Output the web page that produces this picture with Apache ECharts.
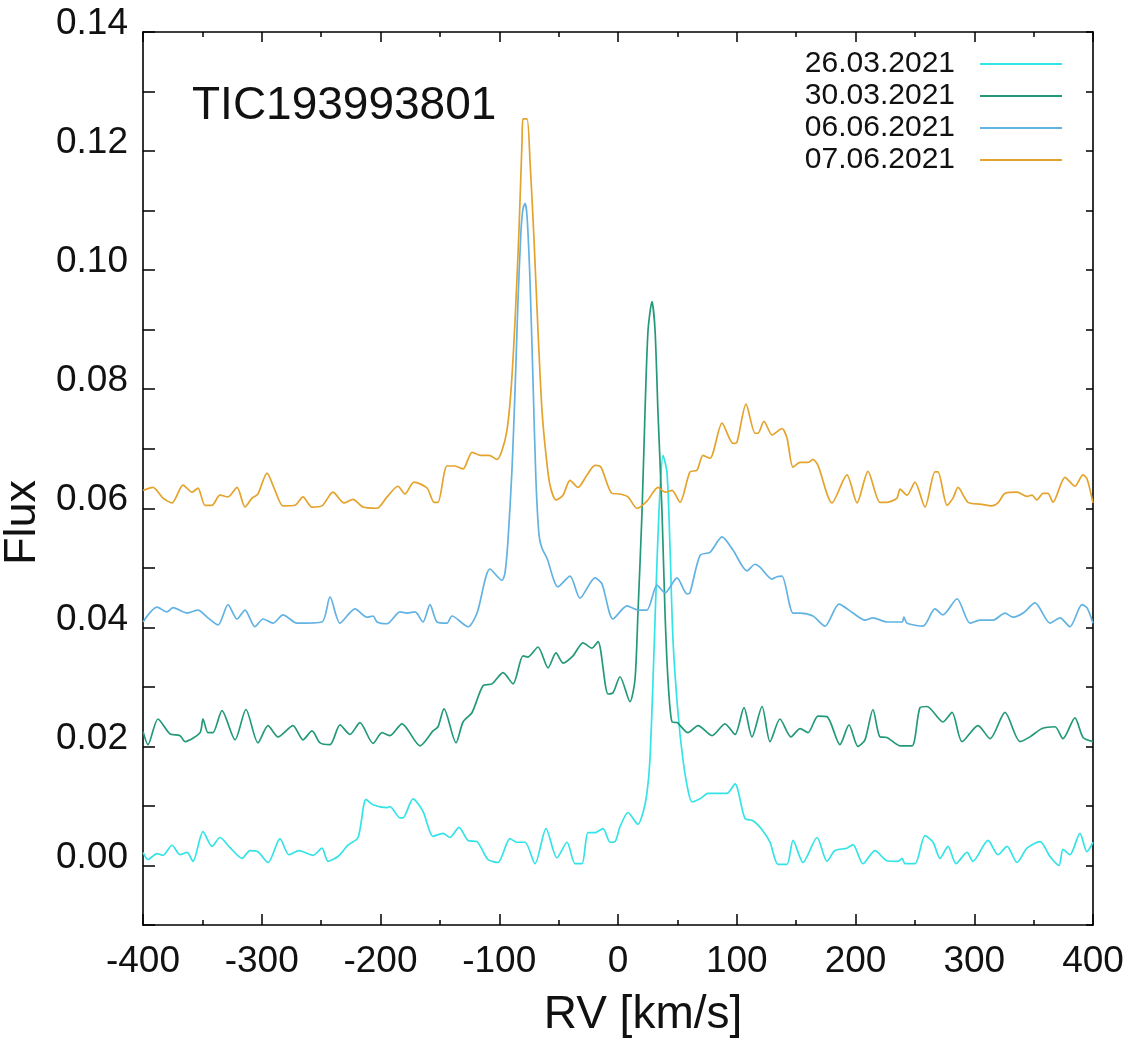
<!DOCTYPE html>
<html>
<head>
<meta charset="utf-8">
<script src="https://cdn.jsdelivr.net/npm/echarts@6/dist/echarts.min.js"></script>
<style>
html,body{margin:0;padding:0;background:#fff;}
#chart{width:1130px;height:1044px;}
</style>
</head>
<body>
<div id="chart"></div>
<script>
const seriesNames = ['26.03.2021', '30.03.2021', '06.06.2021', '07.06.2021'];
const seriesColors = ['#33e3e6', '#23997a', '#62b2e2', '#e4a32c'];

const s2603 = [[-400,0.0022],[-395.8,0.0010],[-388.2,0.0020],[-383.2,0.0017],[-375.6,0.0034],[-368.8,0.0018],[-362.9,0.0022],[-357.9,0.0007],[-349.5,0.0057],[-341.9,0.0032],[-335.2,0.0047],[-326.7,0.0030],[-316.6,0.0012],[-309.9,0.0025],[-303.2,0.0023],[-294.7,0.0005],[-284.6,0.0045],[-277.1,0.0018],[-268.6,0.0025],[-256.8,0.0017],[-249.3,0.0029],[-244.2,0.0007],[-235.8,0.0015],[-227.4,0.0034],[-218.9,0.0047],[-212.2,0.0111],[-206.3,0.0102],[-194.5,0.0097],[-192.0,0.0099],[-183.6,0.0080],[-181.1,0.0080],[-172.6,0.0112],[-164.2,0.0091],[-155.8,0.0049],[-147.4,0.0054],[-141.5,0.0047],[-133.9,0.0064],[-126.3,0.0042],[-118.7,0.0040],[-109.5,0.0010],[-101.1,0.0005],[-91.0,0.0045],[-85.1,0.0039],[-78.3,0.0039],[-69.9,0.0003],[-60.6,0.0062],[-51.4,0.0013],[-42.9,0.0039],[-36.2,0.0003],[-30.3,0.0003],[-25.3,0.0055],[-19.4,0.0055],[-12.6,0.0062],[-6.7,0.0039],[-2.5,0.0040],[1.7,0.0065],[8.4,0.0089],[16.8,0.0069],[21.1,0.0089],[24.4,0.0122],[26.9,0.0178],[29.5,0.0312],[32.8,0.0508],[35.4,0.0630],[37.9,0.0689],[41.3,0.0659],[43.8,0.0535],[46.3,0.0379],[50.5,0.0257],[54.7,0.0178],[58.9,0.0127],[62.3,0.0107],[69.1,0.0112],[75.8,0.0121],[83.4,0.0121],[91.8,0.0121],[98.5,0.0137],[106.9,0.0079],[113.7,0.0075],[121.3,0.0060],[128.0,0.0039],[134.7,0.0002],[142.3,0.0002],[147.4,0.0042],[155.8,0.0005],[167.6,0.0047],[176.0,0.0007],[182.7,0.0025],[192.8,0.0029],[197.9,0.0035],[206.3,0.0003],[216.4,0.0025],[226.5,0.0008],[235.8,0.0007],[239.2,0.0012],[241.7,0.0003],[250.1,0.0003],[258.5,0.0050],[265.3,0.0039],[271.2,0.0012],[277.9,0.0032],[284.6,0.0003],[293.9,0.0022],[298.9,0.0007],[311.6,0.0042],[320.0,0.0018],[327.6,0.0032],[336.0,0.0005],[344.4,0.0029],[355.4,0.0040],[363.8,0.0015],[371.4,0.0000],[374.7,0.0027],[380.6,0.0018],[389.0,0.0054],[394.9,0.0023],[400,0.0039]];

const s3003 = [[-400,0.0225],[-395.8,0.0203],[-387.4,0.0246],[-377.3,0.0221],[-368.8,0.0218],[-364.6,0.0208],[-352.0,0.0223],[-349.5,0.0246],[-345.3,0.0223],[-341.1,0.0223],[-333.5,0.0260],[-322.5,0.0211],[-313.3,0.0262],[-303.2,0.0206],[-294.7,0.0235],[-286.3,0.0216],[-273.7,0.0235],[-265.3,0.0211],[-257.7,0.0226],[-250.9,0.0206],[-242.5,0.0203],[-234.1,0.0236],[-225.7,0.0220],[-217.3,0.0240],[-206.3,0.0205],[-198.7,0.0223],[-192.0,0.0218],[-181.9,0.0238],[-166.7,0.0201],[-155.8,0.0226],[-151.6,0.0233],[-146.5,0.0263],[-136.4,0.0206],[-130.5,0.0241],[-122.9,0.0257],[-113.7,0.0302],[-106.1,0.0305],[-96.8,0.0324],[-88.4,0.0305],[-80.0,0.0352],[-75.8,0.0350],[-67.4,0.0367],[-58.9,0.0332],[-52.2,0.0357],[-46.3,0.0340],[-37.9,0.0352],[-29.5,0.0374],[-21.9,0.0365],[-16.8,0.0376],[-8.4,0.0288],[-4.2,0.0290],[1.7,0.0317],[10.1,0.0275],[14.3,0.0312],[16.8,0.0424],[20.2,0.0592],[22.7,0.0759],[25.3,0.0899],[28.6,0.0947],[31.2,0.0899],[33.7,0.0759],[37.1,0.0592],[39.6,0.0424],[42.1,0.0312],[45.5,0.0241],[49.7,0.0240],[58.9,0.0223],[67.4,0.0235],[79.2,0.0218],[90.1,0.0238],[98.5,0.0220],[106.1,0.0265],[112.8,0.0216],[121.3,0.0267],[128.0,0.0208],[136.4,0.0246],[145.7,0.0216],[153.3,0.0230],[160.0,0.0223],[168.4,0.0251],[176.0,0.0250],[186.9,0.0203],[194.5,0.0236],[202.1,0.0200],[208.0,0.0211],[214.7,0.0262],[220.6,0.0216],[226.5,0.0215],[237.5,0.0201],[247.6,0.0201],[254.3,0.0265],[260.2,0.0267],[273.7,0.0241],[281.3,0.0257],[289.7,0.0208],[303.2,0.0235],[313.3,0.0213],[325.9,0.0257],[338.5,0.0208],[346.9,0.0216],[357.1,0.0230],[368.0,0.0233],[374.7,0.0213],[384.8,0.0248],[391.6,0.0215],[400,0.0208]];

const s0606 = [[-400,0.0409],[-388.2,0.0434],[-379.8,0.0426],[-374.7,0.0433],[-362.9,0.0424],[-353.7,0.0429],[-345.3,0.0416],[-336.8,0.0404],[-328.4,0.0438],[-320.8,0.0414],[-314.1,0.0429],[-305.7,0.0401],[-298.9,0.0414],[-290.5,0.0407],[-282.1,0.0421],[-270.3,0.0407],[-249.3,0.0409],[-242.5,0.0451],[-234.1,0.0407],[-221.5,0.0431],[-211.4,0.0417],[-206.3,0.0419],[-202.9,0.0409],[-194.5,0.0406],[-183.6,0.0426],[-177.7,0.0424],[-170.9,0.0426],[-164.2,0.0409],[-158.3,0.0438],[-152.4,0.0409],[-144.0,0.0407],[-139.8,0.0419],[-126.3,0.0401],[-118.7,0.0424],[-107.8,0.0498],[-97.7,0.0479],[-95.2,0.0491],[-92.6,0.0547],[-89.3,0.0664],[-86.7,0.0798],[-84.2,0.0949],[-81.7,0.1066],[-80.0,0.1103],[-78.3,0.1112],[-76.6,0.1091],[-74.1,0.0982],[-71.6,0.0815],[-69.1,0.0647],[-66.5,0.0555],[-64.0,0.0533],[-59.8,0.0516],[-50.5,0.0468],[-40.4,0.0486],[-32.0,0.0449],[-19.4,0.0483],[-13.5,0.0473],[-4.2,0.0414],[7.6,0.0436],[16.8,0.0429],[24.4,0.0429],[32.8,0.0471],[39.6,0.0458],[49.7,0.0483],[58.1,0.0456],[60.6,0.0458],[69.1,0.0521],[77.5,0.0526],[87.6,0.0552],[96.8,0.0530],[108.6,0.0495],[115.4,0.0506],[119.6,0.0501],[129.7,0.0481],[133.9,0.0485],[138.1,0.0486],[147.4,0.0424],[153.3,0.0424],[164.2,0.0419],[174.3,0.0402],[186.1,0.0439],[197.9,0.0424],[208.0,0.0412],[214.7,0.0416],[226.5,0.0409],[239.2,0.0409],[240.8,0.0417],[243.4,0.0407],[256.8,0.0402],[266.9,0.0431],[273.7,0.0421],[285.5,0.0448],[296.4,0.0407],[304.8,0.0412],[315.8,0.0412],[325.9,0.0424],[332.6,0.0417],[341.1,0.0424],[351.2,0.0441],[363.8,0.0407],[372.2,0.0416],[380.6,0.0401],[390.7,0.0438],[394.9,0.0433],[400,0.0407]];

const s0706 = [[-400,0.0630],[-391.6,0.0635],[-383.2,0.0617],[-375.6,0.0609],[-366.3,0.0639],[-358.7,0.0627],[-353.7,0.0634],[-347.8,0.0605],[-341.9,0.0605],[-335.2,0.0622],[-328.4,0.0619],[-320.8,0.0635],[-314.1,0.0602],[-308.2,0.0617],[-303.2,0.0624],[-295.6,0.0659],[-288.8,0.0630],[-282.1,0.0604],[-272.0,0.0605],[-265.3,0.0619],[-257.7,0.0602],[-249.3,0.0604],[-240.0,0.0627],[-230.7,0.0609],[-223.2,0.0615],[-214.7,0.0602],[-202.9,0.0600],[-194.5,0.0619],[-185.3,0.0637],[-179.4,0.0624],[-171.8,0.0644],[-160.8,0.0634],[-154.9,0.0610],[-151.6,0.0610],[-144.0,0.0671],[-137.3,0.0671],[-130.5,0.0666],[-122.9,0.0694],[-116.2,0.0689],[-108.6,0.0689],[-101.9,0.0682],[-97.7,0.0697],[-93.5,0.0731],[-90.1,0.0798],[-86.7,0.0915],[-83.4,0.1066],[-80.8,0.1217],[-80.0,0.1254],[-76.6,0.1254],[-74.1,0.1184],[-70.7,0.1050],[-67.4,0.0899],[-64.0,0.0764],[-60.6,0.0689],[-57.3,0.0639],[-52.2,0.0614],[-46.3,0.0622],[-40.4,0.0647],[-33.7,0.0635],[-26.1,0.0656],[-19.4,0.0672],[-14.3,0.0669],[-5.1,0.0625],[1.7,0.0624],[8.4,0.0619],[16.0,0.0600],[24.4,0.0612],[33.7,0.0635],[39.6,0.0627],[45.5,0.0630],[52.2,0.0610],[60.6,0.0661],[66.5,0.0664],[71.6,0.0689],[77.5,0.0684],[87.6,0.0743],[96.8,0.0709],[100.2,0.0711],[107.8,0.0775],[115.4,0.0726],[117.9,0.0726],[122.9,0.0746],[129.7,0.0723],[132.2,0.0726],[138.1,0.0734],[142.3,0.0718],[147.4,0.0669],[153.3,0.0677],[160.0,0.0677],[164.2,0.0682],[168.4,0.0672],[180.2,0.0609],[192.8,0.0656],[201.3,0.0609],[210.5,0.0662],[220.6,0.0610],[226.5,0.0610],[234.9,0.0617],[237.5,0.0632],[243.4,0.0622],[250.1,0.0644],[258.5,0.0602],[266.9,0.0661],[269.5,0.0661],[277.1,0.0605],[282.1,0.0617],[286.3,0.0635],[294.7,0.0610],[304.8,0.0607],[314.9,0.0604],[320.0,0.0609],[325.9,0.0625],[336.0,0.0627],[344.4,0.0620],[348.6,0.0622],[352.8,0.0614],[357.9,0.0625],[362.1,0.0625],[366.3,0.0610],[376.4,0.0652],[384.8,0.0637],[391.6,0.0656],[394.9,0.0650],[400,0.0609]];

const seriesData = [s2603, s3003, s0606, s0706];
const titleText = 'TIC193993801';

const FONT = '"Liberation Sans", Arial, Helvetica, sans-serif';
const chart = echarts.init(document.getElementById('chart'), null, {renderer: 'canvas'});

const axisLineStyle = {color: '#000', width: 1.6};

const option = {
  animation: false,
  backgroundColor: '#fff',
  grid: {left: 143, right: 37, top: 32, bottom: 119, containLabel: false, outerBoundsMode: 'none'},
  legend: {
    orient: 'vertical',
    right: 63,
    top: 44,
    align: 'right',
    icon: 'rect',
    itemWidth: 82,
    itemHeight: 2,
    itemGap: 2,
    selectedMode: false,
    data: seriesNames,
    textStyle: {fontFamily: FONT, fontSize: 30, color: '#111', padding: [0, 20, 0, 0], lineHeight: 30}
  },
  xAxis: [
    {
      type: 'value', min: -400, max: 400, interval: 100, position: 'bottom',
      name: 'RV [km/s]', nameLocation: 'middle', nameGap: 67,
      nameTextStyle: {fontFamily: FONT, fontSize: 46, color: '#111', padding: [0, 0, 0, 50]},
      axisLine: {show: true, onZero: false, lineStyle: axisLineStyle},
      axisTick: {show: true, inside: true, length: 11, lineStyle: {color: '#000', width: 1.5}},
      minorTick: {show: true, splitNumber: 2, length: 5, lineStyle: {color: '#000', width: 1.5}},
      axisLabel: {fontFamily: FONT, fontSize: 37, color: '#111', margin: 18},
      splitLine: {show: false}
    },
    {
      type: 'value', min: -400, max: 400, interval: 100, position: 'top',
      axisLine: {show: true, onZero: false, lineStyle: axisLineStyle},
      axisTick: {show: true, inside: true, length: 10, lineStyle: {color: '#000', width: 1.5}},
      minorTick: {show: true, splitNumber: 2, length: 5, lineStyle: {color: '#000', width: 1.5}},
      axisLabel: {show: false},
      splitLine: {show: false}
    }
  ],
  yAxis: [
    {
      type: 'value', min: -0.01, max: 0.14, interval: 0.01, position: 'left',
      name: 'Flux', nameLocation: 'middle', nameGap: 90, nameRotate: 90,
      nameTextStyle: {fontFamily: FONT, fontSize: 45, color: '#111', padding: [0, 88, 0, 0]},
      axisLine: {show: true, onZero: false, lineStyle: axisLineStyle},
      axisTick: {show: true, inside: true, length: 12, lineStyle: {color: '#000', width: 1.5}},
      axisLabel: {
        fontFamily: FONT, fontSize: 37, color: '#111', margin: 15,
        verticalAlign: 'bottom', lineHeight: 16,
        formatter: function (v) {
          const k = Math.round(v * 100);
          return (k >= 0 && k % 2 === 0) ? (k / 100).toFixed(2) : '';
        }
      },
      splitLine: {show: false}
    },
    {
      type: 'value', min: -0.01, max: 0.14, interval: 0.01, position: 'right',
      axisLine: {show: true, onZero: false, lineStyle: axisLineStyle},
      axisTick: {show: true, inside: true, length: 7, lineStyle: {color: '#000', width: 1.5}},
      axisLabel: {show: false},
      splitLine: {show: false}
    }
  ],
  graphic: [
    {
      type: 'text', left: 192, top: 83,
      style: {text: titleText, font: '46px ' + FONT, fill: '#111'}
    }
  ],
  series: seriesNames.map((name, i) => ({
    name: name,
    type: 'line',
    xAxisIndex: 0,
    yAxisIndex: 0,
    data: seriesData[i],
    symbol: 'none',
    smooth: 0.25,
    color: seriesColors[i],
    lineStyle: {color: seriesColors[i], width: 1.7},
    z: 2 + i
  }))
};

chart.setOption(option);
</script>
</body>
</html>
